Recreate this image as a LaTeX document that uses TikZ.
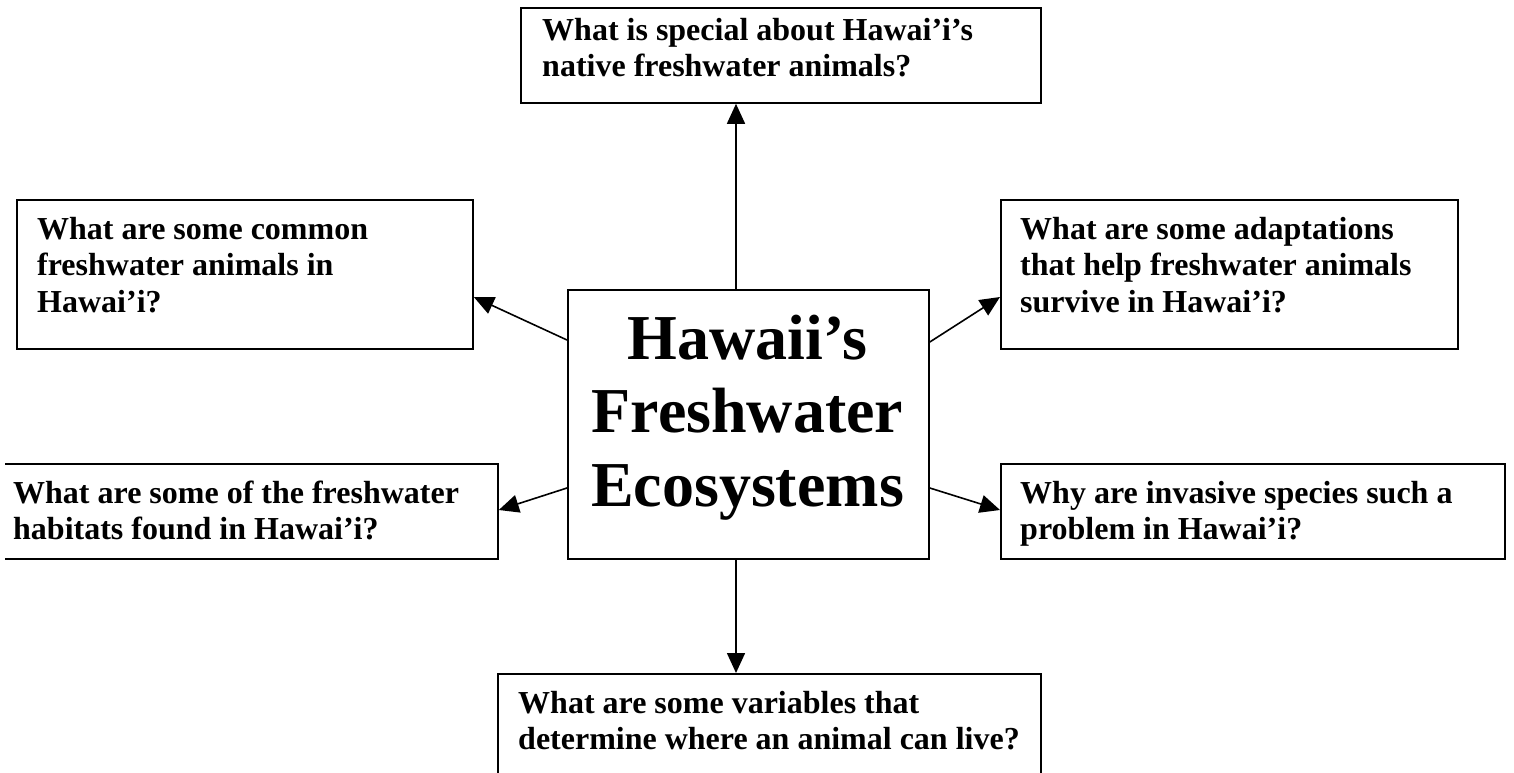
\documentclass[tikz,border=0pt]{standalone}
\usepackage{fontspec}
\setmainfont{Liberation Serif}
\usetikzlibrary{arrows.meta,calc}
\begin{document}
\begin{tikzpicture}[x=1pt,y=-1pt,
 qbox/.style={draw,line width=1.8pt,inner sep=0pt,anchor=north west},
 qtext/.style={inner sep=0pt,anchor=north west,align=left,font=\fontsize{32}{36.8}\selectfont\bfseries},
 ttext/.style={inner sep=0pt,anchor=north,align=center,font=\fontsize{64}{73.6}\selectfont\bfseries},
 conn/.style={line width=1.6pt,-{Triangle[length=20pt,width=18pt]}}]
\useasboundingbox (0,0) rectangle (1514,773);
% boxes
\node[qbox,minimum width=520pt,minimum height=95pt] (top) at (520,7) {};
\node[qbox,minimum width=456pt,minimum height=149pt] (common) at (16,199) {};
\node[qbox,minimum width=457pt,minimum height=149pt] (adapt) at (1000,199) {};
\begin{scope}
\clip (5,0) rectangle (1514,773);
\node[qbox,minimum width=507pt,minimum height=95pt] (hab) at (-10,463) {};
\end{scope}
\node[qbox,minimum width=504pt,minimum height=95pt] (inv) at (1000,463) {};
\node[qbox,minimum width=543pt,minimum height=130pt] (bot) at (497,673) {};
\node[qbox,minimum width=361pt,minimum height=269pt] (hub) at (567,289) {};
% texts
\node[qtext] (toptxt) at (542,14.2) {\strut What is special about Hawai’i’s\\native freshwater animals?};
\node[qtext] (commontxt) at (37,213.2) {\strut What are some common\\freshwater animals in\\Hawai’i?};
\node[qtext] (adapttxt) at (1020,213.2) {\strut What are some adaptations\\that help freshwater animals\\survive in Hawai’i?};
\node[qtext] (habtxt) at (13,477.2) {\strut What are some of the freshwater\\habitats found in Hawai’i?};
\node[qtext] (invtxt) at (1020,477.2) {\strut Why are invasive species such a\\problem in Hawai’i?};
\node[qtext] (bottxt) at (518,687.2) {\strut What are some variables that\\determine where an animal can live?};
\node[ttext] (title) at (747.5,307.5) {\strut Hawaii’s\\Freshwater\\Ecosystems};
% connectors
\draw[conn] ($(hub.north west)+(169,0)$) -- ($(top.south west)+(216,0)$);
\draw[conn] ($(hub.south west)+(169,0)$) -- ($(bot.north west)+(239,0)$);
\draw[conn] ($(hub.north west)+(0,51)$) -- ($(common.north east)+(0,98)$);
\draw[conn] ($(hub.north east)+(0,53)$) -- ($(adapt.north west)+(0,98)$);
\draw[conn] ($(hub.north west)+(0,199)$) -- ($(hab.north east)+(0,47)$);
\draw[conn] ($(hub.north east)+(0,199)$) -- ($(inv.north west)+(0,47)$);
\end{tikzpicture}
\end{document}
